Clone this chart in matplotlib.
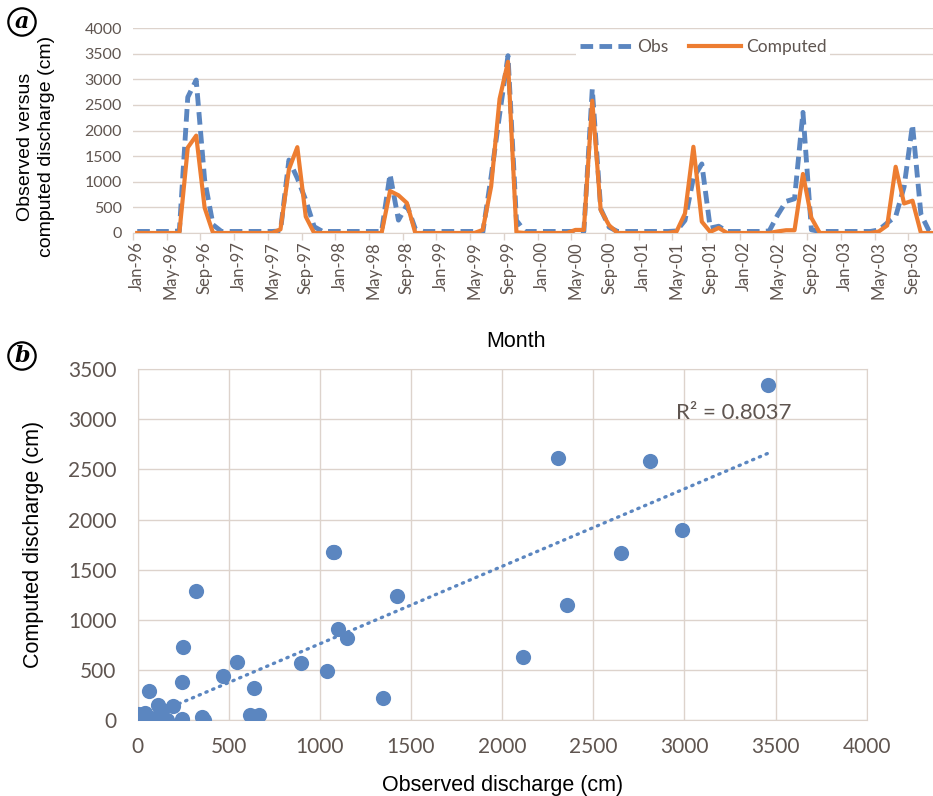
import numpy as np
import matplotlib.pyplot as plt

# monthly series, Jan-96 .. Dec-03
months = ['Jan', 'Feb', 'Mar', 'Apr', 'May', 'Jun', 'Jul', 'Aug', 'Sep', 'Oct', 'Nov', 'Dec']
years = ['96', '97', '98', '99', '00', '01', '02', '03']
labels = [m + '-' + y for y in years for m in months]

obs = [30, 30, 30, 30, 30, 40, 2650, 2985, 1038, 160, 30, 30,
       30, 30, 30, 30, 30, 41, 1423, 1070, 641, 123, 30, 30,
       30, 30, 30, 30, 30, 30, 1147, 251, 547, 80, 30, 30,
       30, 30, 30, 30, 30, 5, 1102, 2308, 3460, 246, 30, 30,
       30, 30, 30, 30, 32, 30, 2811, 471, 114, 30, 30, 30,
       30, 30, 30, 30, 40, 246, 1078, 1348, 96, 132, 30, 30,
       30, 30, 30, 40, 352, 617, 668, 2354, 63, 30, 30, 30,
       30, 30, 30, 30, 60, 196, 321, 898, 2113, 365, 30, 30]
comp = [0, 0, 0, 0, 0, 0, 1668, 1900, 493, 0, 0, 0,
        0, 0, 0, 0, 0, 71, 1241, 1675, 320, 0, 0, 0,
        0, 0, 0, 0, 0, 0, 819, 736, 586, 0, 0, 0,
        0, 0, 0, 0, 0, 60, 909, 2616, 3340, 14, 0, 0,
        0, 0, 0, 0, 60, 60, 2582, 446, 150, 0, 0, 0,
        0, 0, 0, 0, 30, 380, 1682, 220, 21, 100, 0, 0,
        0, 0, 0, 0, 31, 54, 54, 1152, 296, 0, 0, 0,
        0, 0, 0, 0, 30, 147, 1292, 576, 630, 0, 0, 0]
r2_text = 'R² = 0.8037'

blue = '#5b86c0'
orange = '#ed7d31'
txt = '#5f5550'
grid = '#ddd3cc'
tickfont = ['Lato', 'DejaVu Sans']
labfont = ['Liberation Sans', 'DejaVu Sans']

fig = plt.figure(figsize=(9.33, 7.96), dpi=100)

#%% panel a - time series
ax1 = fig.add_axes([133 / 933, 1 - 233 / 796, 809 / 933, 205 / 796])
x = np.arange(len(obs))
ax1.plot(x, obs, color=blue, lw=3.5, dashes=(2.6, 1.3), label='Obs', zorder=3)
ax1.plot(x, comp, color=orange, lw=3.0, label='Computed', zorder=4)
ax1.set_xlim(-0.5, len(obs) - 0.5)
ax1.set_ylim(0, 4000)
ax1.set_yticks(np.arange(0, 4001, 500))
ax1.set_xticks(x[::4])
ax1.set_xticklabels(labels[::4], rotation=90, fontsize=12, color=txt, family=tickfont)
ax1.set_xticks(x[::4] - 0.5, minor=True)
ax1.tick_params(axis='x', which='major', length=0, pad=6)
ax1.tick_params(axis='x', which='minor', length=5, color=grid, width=1)
ax1.tick_params(axis='y', length=0, labelsize=11.5, labelcolor=txt, pad=8)
for t in ax1.get_yticklabels():
    t.set_family(tickfont)
ax1.grid(axis='y', color=grid, lw=1)
ax1.set_axisbelow(True)
for s in ['top', 'right', 'left']:
    ax1.spines[s].set_visible(False)
ax1.spines['bottom'].set_color(grid)
ax1.set_ylabel('Observed versus\ncomputed discharge (cm)', fontsize=14, family=labfont,
               color='black', linespacing=1.25)
ax1.yaxis.set_label_coords(-0.097, 0.42)
ax1.set_xlabel('Month', fontsize=15.5, family=labfont, color='black')
ax1.xaxis.set_label_coords(0.473, -0.48)
leg = ax1.legend(loc='center', bbox_to_anchor=(0.705, 0.905), ncol=2, frameon=True,
                 handlelength=3.0, columnspacing=1.2, handletextpad=0.3,
                 prop={'family': tickfont, 'size': 12.5}, borderpad=0.2)
leg.get_frame().set_edgecolor('none')
leg.get_frame().set_facecolor('white')
leg.get_frame().set_alpha(1)
for t in leg.get_texts():
    t.set_color(txt)

#%% panel b - scatter
ax2 = fig.add_axes([137.5 / 933, 1 - 720.4 / 796, 729.2 / 933, 351.4 / 796])
ax2.scatter(obs, comp, s=120, color=blue, zorder=3, linewidths=0)
k, b = np.polyfit(obs, comp, 1)
xf = np.array([min(obs), max(obs)])
ax2.plot(xf, k * xf + b, color=blue, lw=2.4, linestyle=(0, (0.4, 1.8)),
         dash_capstyle='round', zorder=2)
ax2.set_xlim(0, 4000)
ax2.set_ylim(0, 3500)
ax2.set_xticks(np.arange(0, 4001, 500))
ax2.set_yticks(np.arange(0, 3501, 500))
ax2.tick_params(length=0, labelsize=15, labelcolor=txt)
ax2.tick_params(axis='y', pad=15)
ax2.tick_params(axis='x', pad=12)
for t in ax2.get_xticklabels() + ax2.get_yticklabels():
    t.set_family(tickfont)
ax2.grid(True, color=grid, lw=1)
ax2.set_axisbelow(True)
for s in ax2.spines.values():
    s.set_color(grid)
ax2.text(2955, 3060, r2_text, fontsize=16, color=txt, family=tickfont, va='center')
ax2.set_xlabel('Observed discharge (cm)', fontsize=15.5, family=labfont)
ax2.set_ylabel('Computed discharge (cm)', fontsize=15.5, family=labfont)
ax2.yaxis.set_label_coords(-0.128, 0.5)
ax2.xaxis.set_label_coords(0.5, -0.155)

#%% panel letters
for lab, y in [('a', 22), ('b', 356)]:
    fig.text(22 / 933, 1 - y / 796, lab, fontsize=16, fontweight='bold', style='italic',
             family='DejaVu Serif', ha='center', va='center',
             bbox=dict(boxstyle='circle,pad=0.12', fc='white', ec='black', lw=1.6))

fig.savefig('out.png', dpi=100)
